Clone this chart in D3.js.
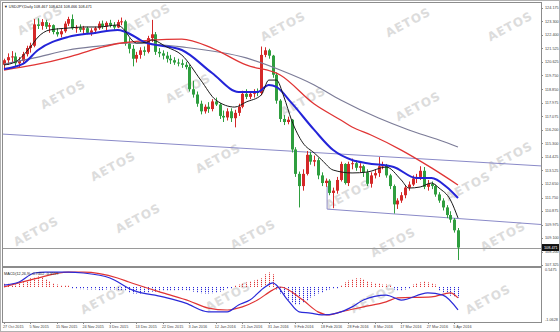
<!DOCTYPE html>
<html>
<head>
<meta charset="utf-8">
<script src="https://cdn.jsdelivr.net/npm/d3@7"></script>
<style>
  body { margin: 0; background: #fff; }
  svg { display: block; font-family: "Liberation Sans", Arial, sans-serif; }
</style>
</head>
<body>
<div id="chart"></div>
<script>
// USDJPY daily candles
const opens = [120.45,120.75,120.95,121.00,120.55,120.70,121.15,121.55,121.70,123.10,123.00,123.25,122.95,123.05,122.60,122.45,122.65,123.15,123.45,122.85,
  122.90,122.75,122.85,122.55,122.70,122.85,123.15,122.95,123.20,123.05,122.90,123.25,123.30,121.85,121.50,120.85,121.10,121.40,121.30,122.20,
  122.45,121.30,121.20,121.05,120.85,120.75,120.60,120.55,120.45,120.30,118.85,118.50,117.90,117.40,117.70,117.55,118.05,117.85,117.10,117.00,
  117.40,116.95,117.30,117.70,118.55,118.35,118.55,118.70,118.60,121.10,121.40,121.05,119.80,118.10,116.90,116.70,116.85,114.90,113.30,112.50,
  113.30,114.55,114.10,114.20,113.20,112.70,112.85,112.05,112.20,112.90,113.95,112.70,113.95,114.00,113.70,113.80,113.40,112.65,113.20,113.35,
  113.80,113.85,113.20,112.50,111.30,111.55,111.90,112.40,112.60,113.00,113.10,113.50,112.45,112.65,112.50,111.95,111.55,111.10,110.60,110.30,
  109.60];
const highs = [120.85,121.20,121.35,121.25,120.95,121.30,121.70,121.90,123.45,123.50,123.45,123.40,123.20,123.10,122.85,122.80,123.30,123.60,123.75,123.05,
  123.10,123.00,122.95,122.85,122.95,123.30,123.35,123.30,123.40,123.25,123.40,123.55,123.40,122.20,121.75,121.30,121.60,121.65,122.35,123.40,
  122.60,121.55,121.40,121.30,121.10,120.95,120.85,120.80,120.65,120.45,119.40,118.70,118.10,117.85,118.00,118.20,118.30,117.95,117.45,117.60,
  117.60,117.50,117.90,118.75,118.85,118.70,118.85,118.90,121.65,121.60,121.50,121.10,119.95,118.20,117.15,117.05,116.90,115.05,113.45,113.60,
  114.80,114.75,114.50,114.35,113.40,113.00,112.95,112.40,113.10,114.10,114.00,114.10,114.30,114.20,114.00,113.90,113.60,113.40,113.60,114.40,
  114.10,113.95,113.30,112.60,111.70,112.10,112.50,112.80,113.20,113.30,113.80,113.75,112.90,112.80,112.60,112.10,111.70,111.25,110.85,110.40,
  109.75];
const lows = [120.15,120.45,120.60,120.35,120.25,120.55,121.00,121.25,121.60,122.80,122.75,122.80,122.55,122.45,122.30,122.25,122.55,123.00,122.75,122.55,
  122.60,122.45,122.45,122.35,122.50,122.75,122.80,122.70,122.90,122.75,122.85,123.05,121.70,121.20,120.35,120.60,120.85,121.05,121.20,121.95,
  121.10,120.95,120.80,120.60,120.50,120.45,120.35,120.25,120.15,118.70,118.30,117.70,117.20,117.25,117.30,117.40,117.75,116.90,116.70,116.80,
  116.70,116.35,117.10,117.60,118.20,118.20,118.30,118.40,118.45,120.95,120.85,119.60,117.90,116.70,116.50,116.55,114.70,113.10,111.10,112.20,
  113.20,113.90,113.80,112.95,112.50,112.45,111.90,111.05,112.00,112.80,112.60,112.50,113.60,113.50,113.40,113.10,112.50,112.40,113.00,113.10,
  113.60,113.05,112.30,110.70,111.00,111.40,111.70,112.20,112.50,112.70,112.90,112.30,112.20,112.30,111.80,111.40,110.90,110.40,110.10,109.45,
  107.65];
const closes = [120.75,120.95,121.00,120.55,120.70,121.15,121.55,121.70,123.10,123.00,123.25,122.95,123.05,122.60,122.45,122.65,123.15,123.45,122.85,122.90,
  122.75,122.85,122.55,122.70,122.85,123.15,122.95,123.20,123.05,122.90,123.25,123.30,121.85,121.50,120.85,121.10,121.40,121.30,122.20,122.45,
  121.30,121.20,121.05,120.85,120.75,120.60,120.55,120.45,120.30,118.85,118.50,117.90,117.40,117.70,117.55,118.05,117.85,117.10,117.00,117.40,
  116.95,117.30,117.70,118.55,118.35,118.55,118.70,118.60,121.10,121.40,121.05,119.80,118.10,116.90,116.70,116.85,114.90,113.30,112.50,113.30,
  114.55,114.10,114.20,113.20,112.70,112.85,112.05,112.20,112.90,113.95,112.70,113.95,114.00,113.70,113.80,113.40,112.65,113.20,113.35,113.80,
  113.85,113.20,112.50,111.30,111.55,111.90,112.40,112.60,113.00,113.10,113.50,112.45,112.65,112.50,111.95,111.55,111.10,110.60,110.30,109.60,
  108.47];

// moving averages, [bar, price] read at a few bars
const maFast = [[0,120.44],[3,120.64],[7,121.62],[9,122.27],[12,122.73],[17,122.86],[21,122.93],[25,122.93],[30,123.06],[31,122.93],[35,121.88],[38,121.95],
  [39,122.08],[43,121.62],[47,121.09],[52,119.45],[56,118.14],[61,117.68],[64,118.01],[68,118.47],[70,119.45],[72,119.45],[74,118.34],[76,116.83],
  [79,115.33],[82,114.67],[84,114.21],[87,113.55],[92,113.36],[96,113.42],[101,113.75],[105,112.90],[107,112.37],[110,112.44],[113,112.70],[115,112.37],
  [118,111.59],[120,110.41]];
const maBlue = [[0,120.18],[5,120.51],[9,121.42],[17,122.28],[24,122.54],[30,122.73],[32,122.62],[37,121.95],[47,121.42],[55,119.91],[62,118.67],[67,118.67],
  [70,119.13],[72,119.00],[76,117.95],[82,116.18],[87,114.86],[92,114.21],[96,114.00],[103,113.75],[109,113.03],[113,113.03],[117,112.44],[120,111.72]];
const maRed = [[0,120.11],[8,120.44],[17,120.96],[25,121.55],[31,121.88],[47,122.14],[55,121.55],[64,120.44],[73,119.78],[82,117.88],[89,116.83],[92,116.37],
  [97,115.85],[105,114.86],[113,113.69],[120,112.57]];
const maGray = [[0,120.50],[8,120.90],[17,121.42],[25,121.68],[33,121.88],[47,121.62],[64,120.90],[73,120.11],[82,119.13],[89,118.14],[99,116.96],
  [107,116.18],[115,115.52],[120,115.06]];

// MACD histogram per bar, and the two lines read at a few bars
const macdHist = [0.10,0.10,0.06,0.06,0.10,0.13,0.19,0.26,0.29,0.32,0.29,0.23,0.16,0.10,0.06,0.03,0.03,0.02,
  -0.03,-0.03,-0.05,-0.05,-0.06,-0.06,-0.06,-0.08,-0.08,-0.06,-0.06,-0.06,-0.08,-0.08,
  -0.11,-0.16,-0.19,-0.19,-0.19,-0.19,-0.16,-0.13,-0.13,
  -0.13,-0.11,-0.10,-0.10,-0.10,-0.08,-0.08,-0.08,-0.10,-0.13,-0.16,
  -0.18,-0.19,-0.19,-0.18,-0.16,-0.13,-0.10,-0.03,-0.02,
  0.03,0.06,0.10,0.13,0.16,0.19,0.23,0.26,0.39,0.45,0.39,
  -0.06,-0.19,-0.29,-0.39,-0.48,-0.55,-0.55,-0.48,-0.42,-0.32,-0.26,-0.19,-0.16,-0.10,-0.06,-0.03,-0.02,
  0.03,0.13,0.19,0.23,0.26,0.26,0.23,0.16,0.13,0.10,0.10,0.06,0.06,0.03,
  -0.06,-0.10,-0.10,-0.06,-0.03,0.06,0.10,0.13,0.16,0.13,0.10,0.06,
  -0.10,-0.16,-0.19,-0.26,-0.29,-0.32];
const macdMain = [[0,0.06],[4,0.16],[8,0.45],[11,0.48],[17,0.48],[21,0.45],[28,0.29],[34,-0.10],[42,-0.32],[48,-0.52],[54,-0.80],[59,-0.80],[62,-0.58],
  [65,-0.42],[69,0.00],[71,0.13],[75,-0.42],[78,-0.80],[81,-0.84],[84,-0.90],[88,-0.84],[92,-0.64],[95,-0.42],[101,-0.26],[105,-0.42],[112,-0.19],
  [116,-0.26],[120,-0.74]];
const macdSignal = [[0,0.00],[8,0.26],[17,0.48],[21,0.48],[30,0.29],[33,0.16],[42,-0.19],[49,-0.45],[54,-0.68],[59,-0.74],[63,-0.64],[67,-0.42],
  [71,-0.10],[73,0.00],[79,-0.42],[83,-0.80],[86,-0.90],[89,-0.80],[95,-0.64],[101,-0.48],[104,-0.35],[113,-0.32],[118,-0.19],[120,-0.35]];

const dateLabels = ["27 Oct 2015","5 Nov 2015","15 Nov 2015","24 Nov 2015","3 Dec 2015","13 Dec 2015","22 Dec 2015","3 Jan 2016","12 Jan 2016",
  "21 Jan 2016","31 Jan 2016","9 Feb 2016","18 Feb 2016","28 Feb 2016","8 Mar 2016","17 Mar 2016","27 Mar 2016","5 Apr 2016"];
const priceTicks = [124.175,123.300,122.400,121.525,120.625,119.750,118.850,117.975,117.075,116.200,115.300,114.425,113.525,112.650,111.750,
  110.875,109.975,109.100,108.200,107.325];
const macdTicks = [0.5475,-1.0628];
const bidPrice = 108.47;

// trend lines drawn on the chart, [bar, price]
const upperLine = [[-0.5,115.91],[142,113.82]];
const lowerLine = [[85.4,112.50],[85.4,110.99],[142,109.98]];

const width = 560, height = 332;
const plotL = 2, plotR = 541;
const mainTop = 2, mainBot = 266, macdTop = 269, macdBot = 322;
const small = 3.8;

const svg = d3.select("#chart").append("svg")
    .attr("width", width)
    .attr("height", height);

svg.append("rect").attr("width", width).attr("height", height).attr("fill", "#fff");

const x = d3.scaleLinear().domain([0, 120]).range([4, 458]);
const y = d3.scaleLinear().domain([107.325, 124.175]).range([265, 8]);
const ym = d3.scaleLinear().domain([-1.0628, 0.5475]).range([320, 270]);

// watermark
const marks = [[42,24],[150,22],[285,30],[410,26],[512,30],[65,98],[190,92],[305,105],[420,110],[512,160],
  [115,170],[220,162],[350,198],[470,190],[38,235],[140,222],[255,238],[395,246],[505,240],[105,303],[230,300],[375,302],[490,303]];
svg.append("g").selectAll("text")
    .data(marks)
    .enter().append("text")
    .attr("transform", d => `translate(${d[0]},${d[1]}) rotate(-28)`)
    .attr("text-anchor", "middle")
    .attr("font-family", "DejaVu Sans, sans-serif")
    .attr("font-size", 12)
    .attr("font-weight", "bold")
    .attr("letter-spacing", 1)
    .attr("fill", "#dcdcdc")
    .text("AETOS");

svg.append("clipPath").attr("id", "cm")
    .append("rect").attr("x", plotL).attr("y", mainTop).attr("width", plotR - plotL).attr("height", mainBot - mainTop);
const main = svg.append("g").attr("clip-path", "url(#cm)");

// trend lines and bid line
const tl = d3.line().x(d => x(d[0])).y(d => y(d[1]));
main.append("path").attr("d", tl(upperLine)).attr("fill", "none").attr("stroke", "#8a8ac8").attr("stroke-width", 1);
main.append("path").attr("d", tl(lowerLine)).attr("fill", "none").attr("stroke", "#8a8ac8").attr("stroke-width", 1);
main.append("line")
    .attr("x1", plotL).attr("x2", plotR)
    .attr("y1", Math.round(y(bidPrice)) + 0.5).attr("y2", Math.round(y(bidPrice)) + 0.5)
    .attr("stroke", "#9a9a9a").attr("stroke-width", 1);

// candles
const bars = d3.range(closes.length);
const up = i => closes[i] >= opens[i];
main.append("g").selectAll("line")
    .data(bars)
    .enter().append("line")
    .attr("x1", i => Math.round(x(i)) + 0.5)
    .attr("x2", i => Math.round(x(i)) + 0.5)
    .attr("y1", i => y(highs[i]))
    .attr("y2", i => y(lows[i]))
    .attr("stroke", i => up(i) ? "#d42828" : "#2f9e3f")
    .attr("stroke-width", 1);
main.append("g").selectAll("rect")
    .data(bars)
    .enter().append("rect")
    .attr("x", i => Math.round(x(i)) - 1)
    .attr("width", 3)
    .attr("y", i => y(Math.max(opens[i], closes[i])))
    .attr("height", i => Math.max(1, Math.abs(y(opens[i]) - y(closes[i]))))
    .attr("fill", i => up(i) ? "#d42828" : "#2f9e3f");

// moving averages
const maLine = d3.line().x(d => x(d[0])).y(d => y(d[1])).curve(d3.curveMonotoneX);
[[maGray, "#7c7c98", 1.2], [maRed, "#e03434", 1.3], [maBlue, "#2424d8", 2], [maFast, "#1a1a1a", 1]].forEach(([data, color, w]) => {
    main.append("path").attr("d", maLine(data))
        .attr("fill", "none").attr("stroke", color).attr("stroke-width", w);
});

// MACD panel
const macd = svg.append("g");
macd.append("g").selectAll("line")
    .data(bars)
    .enter().append("line")
    .attr("x1", i => Math.round(x(i)) + 0.5)
    .attr("x2", i => Math.round(x(i)) + 0.5)
    .attr("y1", ym(0))
    .attr("y2", i => ym(macdHist[i]) + (macdHist[i] >= 0 ? -0.6 : 0.6))
    .attr("stroke", i => macdHist[i] >= 0 ? "#e03434" : "#2a2ad8")
    .attr("stroke-width", 1)
    .attr("stroke-dasharray", "1.2,0.8");
const ml = d3.line().x(d => x(d[0])).y(d => ym(d[1])).curve(d3.curveMonotoneX);
macd.append("path").attr("d", ml(macdSignal)).attr("fill", "none").attr("stroke", "#e03434").attr("stroke-width", 1.2);
macd.append("path").attr("d", ml(macdMain)).attr("fill", "none").attr("stroke", "#2a2ad8").attr("stroke-width", 1.2);

// frames
svg.append("rect").attr("x", 0.5).attr("y", 0.5).attr("width", width - 1).attr("height", height - 1)
    .attr("fill", "none").attr("stroke", "#b0b0b0");
svg.append("rect").attr("x", plotL + 0.5).attr("y", mainTop + 0.5).attr("width", plotR - plotL).attr("height", macdBot - mainTop)
    .attr("fill", "none").attr("stroke", "#8c8c8c");
svg.append("rect").attr("x", plotL).attr("y", mainBot).attr("width", plotR - plotL).attr("height", 2).attr("fill", "#8c8c8c");

// price axis
const axisG = svg.append("g").attr("font-size", small).attr("fill", "#444");
axisG.selectAll("line.pt")
    .data(priceTicks)
    .enter().append("line")
    .attr("x1", plotR).attr("x2", plotR + 2)
    .attr("y1", d => Math.round(y(d)) + 0.5).attr("y2", d => Math.round(y(d)) + 0.5)
    .attr("stroke", "#8c8c8c");
axisG.selectAll("text.pt")
    .data(priceTicks)
    .enter().append("text")
    .attr("x", plotR + 4)
    .attr("y", d => y(d) + 1.3)
    .text(d => d.toFixed(3));

// bid box
svg.append("rect").attr("x", plotR + 1).attr("y", y(bidPrice) - 3.5).attr("width", 17).attr("height", 7).attr("fill", "#111");
svg.append("text").attr("x", plotR + 3).attr("y", y(bidPrice) + 1.4)
    .attr("font-size", small).attr("fill", "#fff").text("108.471");

// MACD axis
axisG.selectAll("text.mt")
    .data(macdTicks)
    .enter().append("text")
    .attr("x", plotR + 4)
    .attr("y", d => ym(d) + 1.3)
    .text(d => d.toFixed(4));

// date axis
const dateG = svg.append("g").attr("font-size", small).attr("fill", "#444");
dateG.selectAll("line")
    .data(dateLabels)
    .enter().append("line")
    .attr("x1", (d, k) => Math.round(x(k * 7)) + 0.5)
    .attr("x2", (d, k) => Math.round(x(k * 7)) + 0.5)
    .attr("y1", macdBot).attr("y2", macdBot + 2)
    .attr("stroke", "#8c8c8c");
dateG.selectAll("text")
    .data(dateLabels)
    .enter().append("text")
    .attr("x", (d, k) => x(k * 7) - 1)
    .attr("y", 328)
    .text(d => d);

// titles
svg.append("text").attr("x", 4).attr("y", 8).attr("font-size", small).attr("fill", "#222")
    .text("▼ USDJPY,Daily  108.467 108.624 108.466 108.471");
svg.append("text").attr("x", 4).attr("y", 275).attr("font-size", small).attr("fill", "#222")
    .text("MACD(12,26,9) -0.7402 -0.3519");
</script>
</body>
</html>
